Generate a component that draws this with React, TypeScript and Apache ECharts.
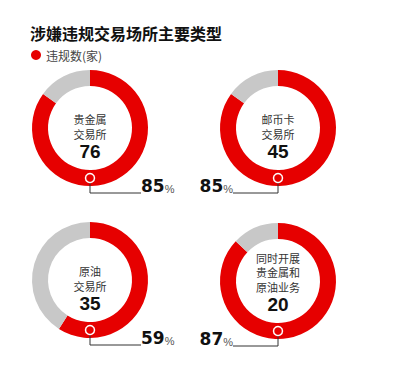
import React, { useEffect, useRef } from "react";
import * as echarts from "echarts";

const title = "涉嫌违规交易场所主要类型";
const legendName = "违规数(家)";
const categories: string[][] = [
  ["贵金属", "交易所"],
  ["邮币卡", "交易所"],
  ["原油", "交易所"],
  ["同时开展", "贵金属和", "原油业务"],
];
const counts = [76, 45, 35, 20];
const shares = [85, 85, 59, 87];

const centers: [number, number][] = [
  [90, 128],
  [278, 128],
  [90, 280],
  [278, 281],
];
const labelSide = ["right", "left", "right", "left"];

const RED = "#e60000";
const GRAY = "#c8c8c8";
const CJK = '"Noto Sans CJK SC", "Noto Sans", sans-serif';
const LAT = '"Liberation Sans", Arial, sans-serif';

export default function App() {
  const ref = useRef<HTMLDivElement>(null);
  useEffect(() => {
    if (!ref.current) return;
    const chart = echarts.init(ref.current, undefined, { renderer: "svg" });

    const series: any[] = categories.map((_, i) => ({
      type: "pie",
      name: categories[i].join(""),
      radius: [42, 58],
      center: centers[i],
      startAngle: 90,
      clockwise: true,
      silent: true,
      avoidLabelOverlap: false,
      label: { show: false },
      labelLine: { show: false },
      emphasis: { disabled: true },
      data: [
        { name: legendName, value: shares[i], itemStyle: { color: RED } },
        { name: "其他", value: 100 - shares[i], itemStyle: { color: GRAY } },
      ],
    }));

    const graphics: any[] = [];
    categories.forEach((lines, i) => {
      const [cx, cy] = centers[i];
      const n = lines.length;
      const text =
        lines.map((l) => `{l|${l}}`).join("\n") + `\n{n|${counts[i]}}`;
      graphics.push({
        type: "text",
        x: cx,
        y: cy + 5.5 - 14.5 * (n - 1) - 7.25,
        style: {
          text,
          align: "center",
          verticalAlign: "top",
          textAlign: "center",
          textVerticalAlign: "top",
          rich: {
            l: {
              fontFamily: CJK,
              fontSize: 11,
              lineHeight: 14.5,
              fill: "#333",
              color: "#333",
              align: "center",
              verticalAlign: "middle",
            },
            n: {
              fontFamily: LAT,
              fontWeight: "bold",
              fontSize: 19,
              lineHeight: 21.5,
              fill: "#111",
              color: "#111",
              align: "center",
              verticalAlign: "middle",
            },
          },
        },
      });
      const lineY = cy + 65;
      const endX = labelSide[i] === "right" ? cx + 51 : cx - 45;
      graphics.push({
        type: "polyline",
        shape: {
          points: [
            [cx, cy + 55],
            [cx, lineY],
            [endX, lineY],
          ],
        },
        style: { stroke: "#333", lineWidth: 1, fill: null },
        z: 10,
      });
      graphics.push({
        type: "circle",
        shape: { cx, cy: cy + 50, r: 4.5 },
        style: { fill: RED, stroke: "#fff", lineWidth: 1.5 },
        z: 11,
      });
      graphics.push({
        type: "text",
        x: endX,
        y: lineY + 1,
        z: 12,
        style: {
          text: `{n|${shares[i]}}{p|%}`,
          align: labelSide[i] === "right" ? "left" : "right",
          verticalAlign: "bottom",
          textAlign: labelSide[i] === "right" ? "left" : "right",
          textVerticalAlign: "bottom",
          rich: {
            n: {
              fontFamily: '"DejaVu Sans", sans-serif',
              fontWeight: "bold",
              fontSize: 17,
              lineHeight: 18,
              fill: "#111",
              color: "#111",
              verticalAlign: "bottom",
            },
            p: {
              fontFamily: LAT,
              fontSize: 11,
              lineHeight: 13,
              fill: "#555",
              color: "#555",
              verticalAlign: "bottom",
            },
          },
        },
      });
    });

    chart.setOption({
      animation: false,
      title: {
        text: title,
        left: 25,
        top: 20,
        textStyle: {
          fontFamily: CJK,
          fontSize: 16,
          fontWeight: "bold",
          color: "#111",
        },
      },
      legend: {
        data: [legendName],
        left: 26,
        top: 44,
        icon: "circle",
        itemWidth: 10,
        itemHeight: 10,
        itemGap: 10,
        selectedMode: false,
        textStyle: { fontFamily: CJK, fontSize: 12, color: "#444" },
      },
      series,
      graphic: graphics,
    });
    return () => chart.dispose();
  }, []);
  return (
    <div
      ref={ref}
      style={{ position: "fixed", left: 0, top: 0, width: 415, height: 371, background: "#fff" }}
    />
  );
}
